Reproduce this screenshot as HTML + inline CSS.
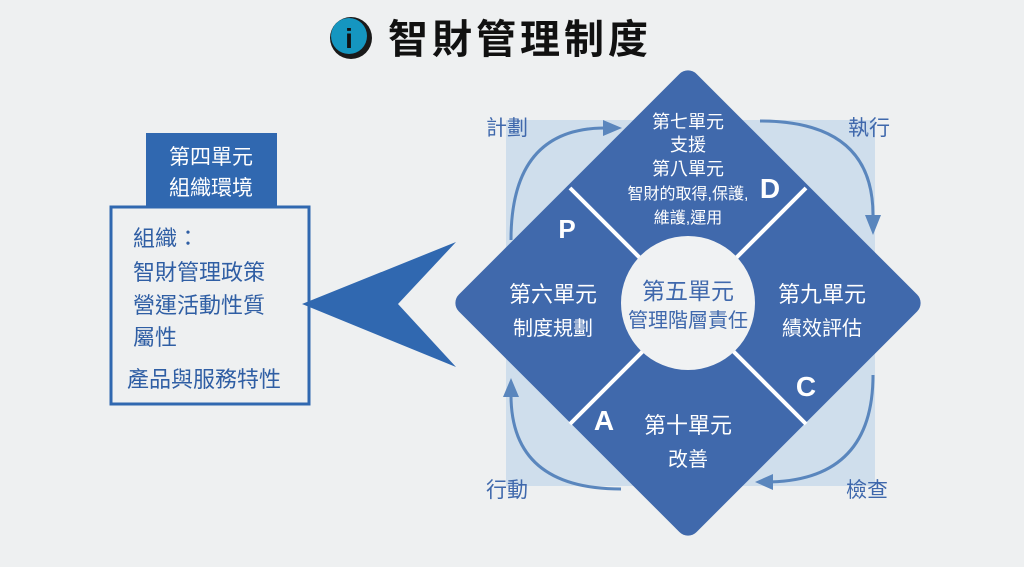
<!DOCTYPE html>
<html><head><meta charset="utf-8"><style>
html,body{margin:0;padding:0;background:#eef0f1;}
svg{display:block}
text{font-family:"Liberation Sans","Noto Sans CJK TC",sans-serif;}
</style></head><body>
<svg width="1024" height="567" viewBox="0 0 1024 567" xmlns="http://www.w3.org/2000/svg">
<rect width="1024" height="567" fill="#eef0f1"/>
<!-- title -->
<circle cx="351" cy="38" r="21" fill="#1a1a1a"/>
<circle cx="349" cy="36" r="18" fill="#1596c0"/>
<text x="349" y="48" font-size="28" font-weight="bold" fill="#111" text-anchor="middle" font-family="Liberation Serif,serif">i</text>
<text x="388" y="53" font-size="40" font-weight="bold" fill="#111" textLength="260" font-family="'Noto Sans CJK TC',sans-serif">智財管理制度</text>

<!-- left box -->
<rect x="146" y="133" width="131" height="74" fill="#3068b0"/>
<text x="211" y="164" font-size="21" fill="#fff" text-anchor="middle" font-family="'Noto Sans CJK TC',sans-serif">第四單元</text>
<text x="211" y="195" font-size="21" fill="#fff" text-anchor="middle" font-family="'Noto Sans CJK TC',sans-serif">組織環境</text>
<rect x="111" y="207" width="198" height="197" fill="none" stroke="#3068b0" stroke-width="3"/>
<g font-size="22" fill="#2f5ea4" font-family="'Noto Sans CJK TC',sans-serif">
<text x="133" y="246">組織：</text>
<text x="133" y="280">智財管理政策</text>
<text x="133" y="313">營運活動性質</text>
<text x="133" y="345">屬性</text>
<text x="127" y="387">產品與服務特性</text>
</g>
<!-- big arrow -->
<polygon points="302,304 456,242 398,304 456,367" fill="#3068b0"/>

<!-- light square -->
<rect x="506" y="120" width="369" height="366" fill="#cfdeec"/>
<!-- cycle arcs -->
<g fill="none" stroke="#5a86bd" stroke-width="3">
<path d="M511,240 Q511,128 605,128"/>
<path d="M760,121 Q873,121 873,215"/>
<path d="M873,375 Q873,482 765,482"/>
<path d="M621,489 Q511,489 511,395"/>
</g>
<g fill="#5a86bd">
<polygon points="622,128 603,120 603,136"/>
<polygon points="873,235 865,215 881,215"/>
<polygon points="755,482 773,474 773,490"/>
<polygon points="511,378 503,397 519,397"/>
</g>
<!-- diamond -->
<rect x="520" y="135" width="336" height="336" rx="12" fill="#4069ac" transform="rotate(45 688 303)"/>
<g stroke="#fff" stroke-width="4">
<line x1="570" y1="188" x2="806" y2="424"/>
<line x1="806" y1="188" x2="570" y2="424"/>
</g>
<circle cx="688" cy="303" r="67" fill="#f0f2f3"/>
<g fill="#fff" text-anchor="middle" font-family="'Noto Sans CJK TC',sans-serif">
<text x="688" y="128" font-size="18">第七單元</text>
<text x="688" y="151" font-size="18">支援</text>
<text x="688" y="175" font-size="18">第八單元</text>
<text x="688" y="199" font-size="16">智財的取得,保護,</text>
<text x="688" y="223" font-size="16">維護,運用</text>
<text x="553" y="302" font-size="22">第六單元</text>
<text x="553" y="335" font-size="20">制度規劃</text>
<text x="822" y="302" font-size="22">第九單元</text>
<text x="822" y="335" font-size="20">績效評估</text>
<text x="688" y="433" font-size="22">第十單元</text>
<text x="688" y="466" font-size="20">改善</text>
<text x="567" y="238" font-size="26" font-weight="bold" font-family="Liberation Sans,sans-serif">P</text>
<text x="770" y="198" font-size="28" font-weight="bold" font-family="Liberation Sans,sans-serif">D</text>
<text x="806" y="396" font-size="28" font-weight="bold" font-family="Liberation Sans,sans-serif">C</text>
<text x="604" y="430" font-size="28" font-weight="bold" font-family="Liberation Sans,sans-serif">A</text>
</g>
<g fill="#3f68ac" text-anchor="middle" font-family="'Noto Sans CJK TC',sans-serif">
<text x="688" y="299" font-size="23">第五單元</text>
<text x="688" y="327" font-size="20">管理階層責任</text>
</g>
<g fill="#3f68ac" font-size="21" font-family="'Noto Sans CJK TC',sans-serif">
<text x="486" y="135">計劃</text>
<text x="848" y="135">執行</text>
<text x="486" y="497">行動</text>
<text x="846" y="497">檢查</text>
</g>
</svg>
</body></html>
